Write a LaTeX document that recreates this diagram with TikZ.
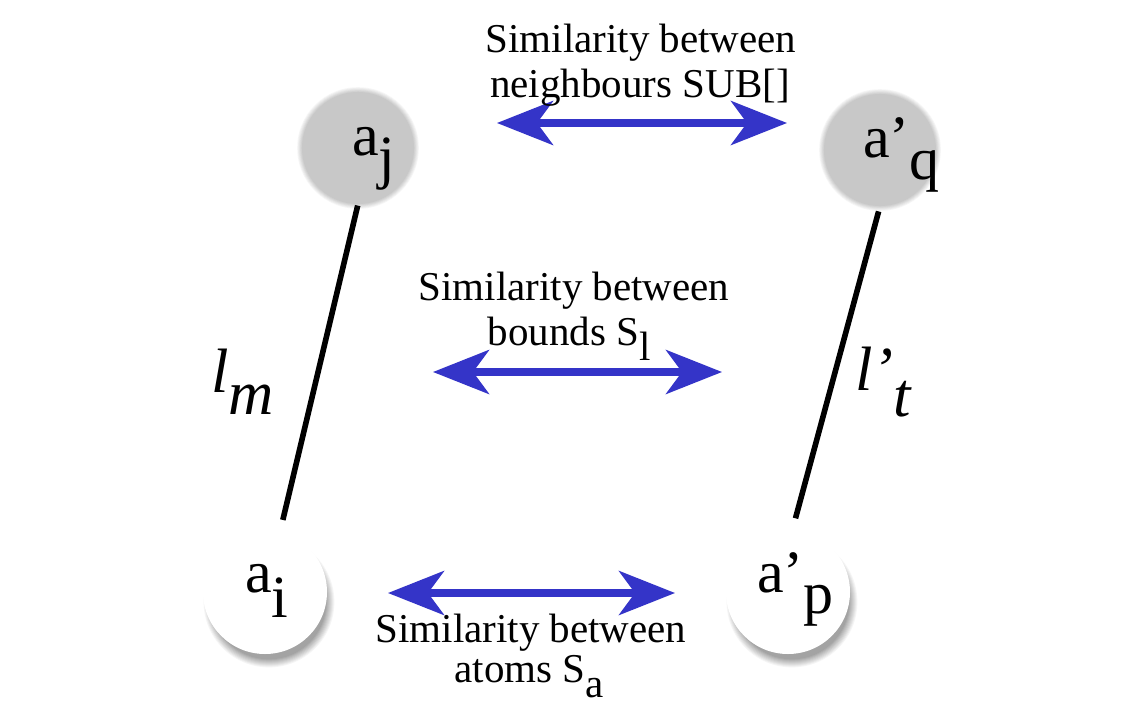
\documentclass[tikz,border=0pt]{standalone}
\usepackage{fontspec}
\setmainfont{Liberation Serif}
\newfontfamily\timesfont{Liberation Serif}
\usetikzlibrary{arrows.meta,calc}
\definecolor{arrowblue}{RGB}{52,52,200}
\definecolor{nodegray}{RGB}{200,200,200}
\newcommand{\lowsub}[2][0.38em]{\raisebox{-#1}{#2}}
\newcommand{\myprime}{\textquoteright}
\begin{document}
\begin{tikzpicture}[x=0.75pt,y=-0.75pt,
  topatom/.style={circle, fill=nodegray, minimum size=84pt, inner sep=0pt},
  botatom/.style={circle, fill=white, minimum size=93pt, inner sep=0pt},
  atomlabel/.style={anchor=base west, inner sep=0pt, font=\fontsize{45}{50}\selectfont\timesfont},
  bondlabel/.style={anchor=base west, inner sep=0pt, font=\fontsize{47}{52}\selectfont\timesfont\itshape},
  simtext/.style={anchor=base, inner sep=0pt, font=\fontsize{30.75}{34}\selectfont\timesfont},
  simarrow/.style={draw=arrowblue, line width=5.4pt,
    {Stealth[length=42pt,width=33pt,inset=12pt]}-{Stealth[length=42pt,width=33pt,inset=12pt]}},
  bond/.style={draw=black, line width=4.2pt}
]
\useasboundingbox[fill=white] (0,0) rectangle (1138,710);

% centres
\coordinate (cj) at (358,148);
\coordinate (cq) at (880,150);
\coordinate (ci) at (265,592);
\coordinate (cp) at (788,592);

% soft halos of the grey atoms (opaque rings)
\foreach \c in {cj,cq}{
  \foreach \d [evaluate=\d as \k using int(100-14*\d)] in {6,...,1}{
    \fill[nodegray!\k] (\c) circle[radius=42pt+\d*0.6pt];
  }
}
% drop shadows of the white atoms (opaque rings)
\foreach \c in {ci,cp}{
  \foreach \d [evaluate=\d as \k using int(4*(9-\d))] in {8,...,0}{
    \fill[black!\k] ($(\c)+(4,10)$) circle[radius=43pt+\d*0.75pt];
  }
}

% atoms
\node[topatom] (aj) at (cj) {};
\node[topatom] (aq) at (cq) {};
\node[botatom] (ai) at (ci) {};
\node[botatom] (ap) at (cp) {};

% atom labels
\node[atomlabel] (laj) at (352,155) {a\lowsub{j}};
\node[atomlabel] (laq) at (863,157) {a\myprime\lowsub{q}};
\node[atomlabel] (lai) at (245,592) {a\lowsub[0.42em]{i}};
\node[atomlabel] (lap) at (757,592) {a\myprime\lowsub[0.36em]{p}};

% bonds
\draw[bond, shorten <=1pt, shorten >=9pt] (aj.-90) -- (ai.76);
\draw[bond, shorten <=4pt, shorten >=9pt] (aq.-90) -- (ap.86);

% bond labels
\node[bondlabel] (llm) at (211,392) {l\lowsub[0.36em]{m}};
\node[bondlabel] (llt) at (855,390) {l\myprime\lowsub[0.42em]{t}};

% similarity arrows
\coordinate (t1) at (497,123);  \coordinate (t2) at (787,123);
\coordinate (m1) at (433,372);  \coordinate (m2) at (722,372);
\coordinate (b1) at (388,593);  \coordinate (b2) at (675,593);
\draw[simarrow] (t1) -- (t2);
\draw[simarrow] (m1) -- (m2);
\draw[simarrow] (b1) -- (b2);

% texts
\node[simtext] (top1) at (641,53) {Similarity between};
\node[simtext] (top2) at (640,98) {neighbours SUB[]};
\node[simtext] (mid1) at (574,300) {Similarity between};
\node[simtext] (mid2) at (569,345) {bounds S\lowsub[0.37em]{l}};
\node[simtext] (bot1) at (531,642) {Similarity between};
\node[simtext] (bot2) at (529,682) {atoms S\lowsub[0.37em]{a}};
\end{tikzpicture}
\end{document}
